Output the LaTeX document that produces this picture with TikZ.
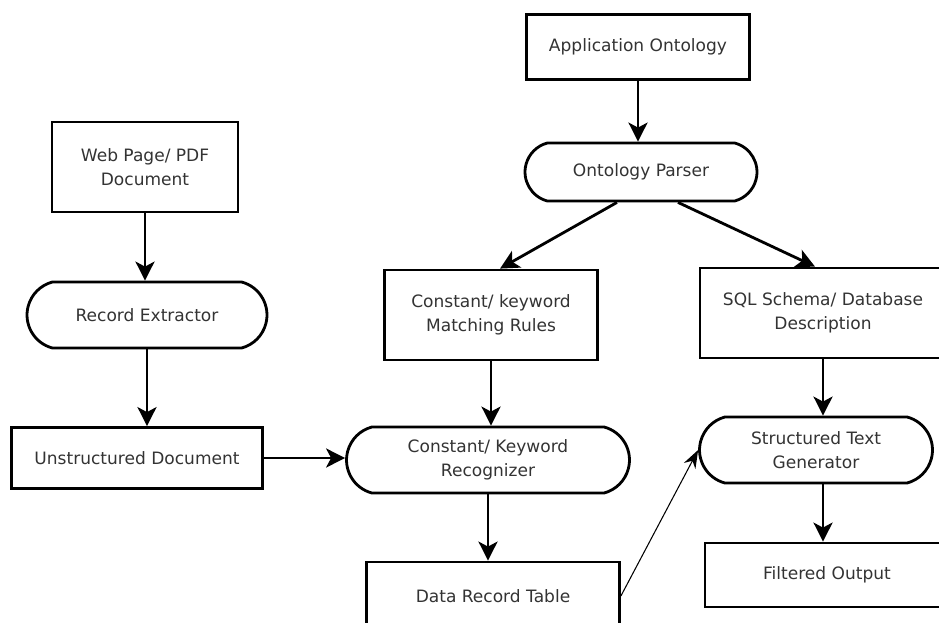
\documentclass[tikz,border=0pt]{standalone}
\usepackage{fontspec}
\setmainfont{DejaVu Sans}
\usetikzlibrary{arrows.meta,shapes.misc,calc}

\begin{document}
\begin{tikzpicture}[x=0.02cm, y=-0.02cm,
      box/.style={draw, line width=1.6pt, rectangle, inner sep=0pt, align=center,
                  font=\fontsize{9.7}{13.6}\selectfont, text=black!80},
      term/.style={box, rounded rectangle, rounded rectangle arc length=150},
      flow/.style={line width=1.6pt, -{Stealth[length=0.38cm, width=0.38cm, inset=0.1cm]}},
      thinflow/.style={line width=0.6pt, -{Stealth[length=0.36cm, width=0.26cm]}}]
    \useasboundingbox (0,0) rectangle (939,622);
    \clip (0,0) rectangle (939,622);
    \node[box, minimum width=4.46cm, minimum height=1.30cm] (app) at (638,47) {Application Ontology};
    \node[term, minimum width=4.64cm, minimum height=1.16cm] (parser) at (641,172) {Ontology Parser};
    \node[box, minimum width=3.72cm, minimum height=1.80cm] (web) at (145,167) {Web Page/ PDF\\Document};
    \node[term, minimum width=4.80cm, minimum height=1.32cm] (ext) at (147,315) {Record Extractor};
    \node[box, minimum width=5.02cm, minimum height=1.22cm] (unst) at (137,458) {Unstructured Document};
    \node[box, minimum width=4.26cm, minimum height=1.80cm] (rules) at (491,315) {Constant/ keyword\\Matching Rules};
    \node[term, minimum width=5.66cm, minimum height=1.32cm] (rec) at (488,460) {Constant/ Keyword\\Recognizer};
    \node[box, minimum width=5.06cm, minimum height=1.36cm] (table) at (493,596) {Data Record Table};
    \node[box, minimum width=4.92cm, minimum height=1.80cm] (sql) at (823,313) {SQL Schema/ Database\\Description};
    \node[term, minimum width=4.66cm, minimum height=1.32cm] (gen) at (816,450) {Structured Text\\Generator};
    \node[box, minimum width=4.88cm, minimum height=1.28cm] (out) at (827,575) {Filtered Output};

    \draw[flow] (app.south) -- (app.south |- parser.north);
    \draw[flow] ($(parser.south)+(-24,0)$) -- ($(rules.north)+(9,0)$);
    \draw[flow] ($(parser.south)+(37,0)$) -- ($(sql.north)+(-8,0)$);
    \draw[flow] (web.south) -- (web.south |- ext.north);
    \draw[flow] (ext.south) -- (ext.south |- unst.north);
    \draw[flow] (unst.east) -- (unst.east -| rec.west);
    \draw[flow] (rules.south) -- (rules.south |- rec.north);
    \draw[flow] (rec.south) -- (rec.south |- table.north);
    \draw[flow] (sql.south) -- (sql.south |- gen.north);
    \draw[flow] (sql.south |- gen.south) -- (sql.south |- out.north);
    \draw[thinflow] (table.east) -- (gen.west);
  \end{tikzpicture}
\end{document}
